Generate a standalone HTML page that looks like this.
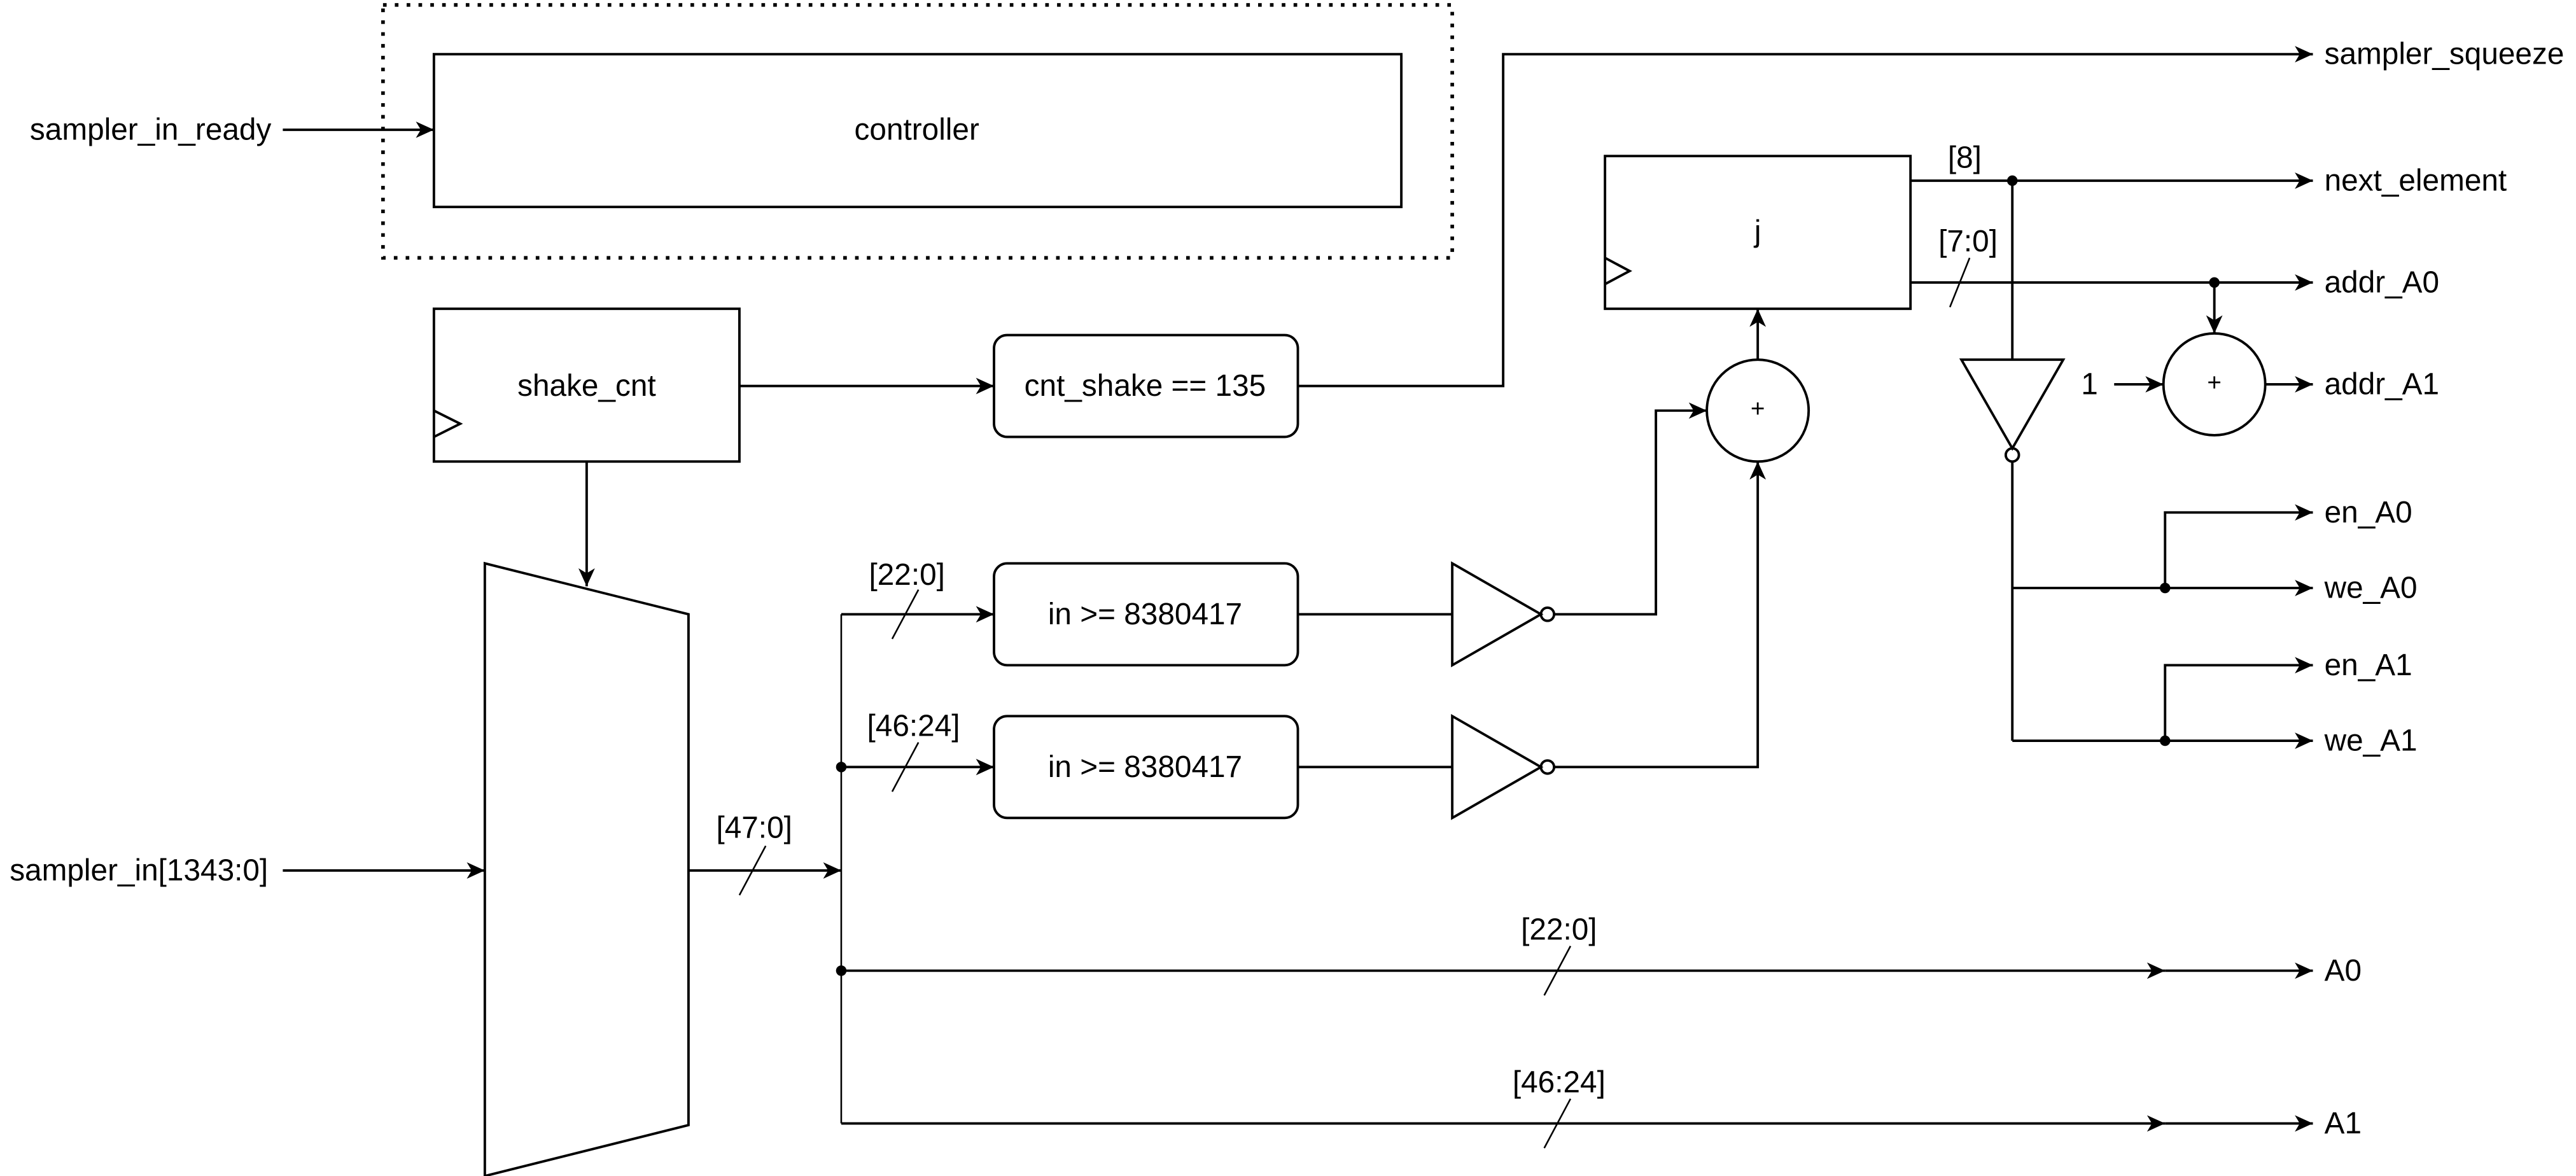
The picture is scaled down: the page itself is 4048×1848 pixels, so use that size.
<!DOCTYPE html>
<html><head><meta charset="utf-8"><style>
html,body{margin:0;padding:0;background:#fff}
svg{display:block}
text{font-family:"Liberation Sans",sans-serif;font-size:18.5px;fill:#000}
</style></head><body>
<svg width="4048" height="1848" viewBox="0 0 1568 716" xmlns="http://www.w3.org/2000/svg">
<defs>
<marker id="a" markerUnits="userSpaceOnUse" markerWidth="14" markerHeight="14" refX="11" refY="7" orient="auto">
<path d="M0,2 L11,7 L0,12 L3,7 Z" fill="#000"/>
</marker>
</defs>
<g fill="none" stroke="#000" stroke-width="1.5">
<rect x="233" y="3" width="651" height="154" stroke-width="2.2" stroke-dasharray="2.2,5"/>
<rect x="264" y="33" width="589" height="93"/>
<line x1="172" y1="79" x2="264" y2="79" marker-end="url(#a)"/>
<rect x="264" y="188" width="186" height="93"/>
<polyline points="264,250 280,258 264,266"/>
<line x1="450" y1="235" x2="605" y2="235" marker-end="url(#a)"/>
<rect x="605" y="204" width="185" height="62" rx="8"/>
<polyline points="790,235 915,235 915,33 1408,33" marker-end="url(#a)"/>
<line x1="357" y1="281" x2="357" y2="357" marker-end="url(#a)"/>
<polygon points="295,343 419,374 419,685 295,716"/>
<line x1="172" y1="530" x2="295" y2="530" marker-end="url(#a)"/>
<line x1="419" y1="530" x2="512" y2="530" marker-end="url(#a)"/>
<line x1="450" y1="545" x2="466" y2="515" stroke-width="1"/>
<line x1="512" y1="374" x2="512" y2="684" stroke-width="1"/>
<polyline points="512,374 605,374" marker-end="url(#a)"/>
<line x1="512" y1="467" x2="605" y2="467" marker-end="url(#a)"/>
<line x1="543" y1="389" x2="559" y2="359" stroke-width="1"/>
<line x1="543" y1="482" x2="559" y2="452" stroke-width="1"/>
<rect x="605" y="343" width="185" height="62" rx="8"/>
<rect x="605" y="436" width="185" height="62" rx="8"/>
<line x1="790" y1="374" x2="884" y2="374"/>
<line x1="790" y1="467" x2="884" y2="467"/>
<polygon points="884,343 884,405 938,374"/>
<polygon points="884,436 884,498 938,467"/>
<circle cx="942" cy="374" r="4"/>
<circle cx="942" cy="467" r="4"/>
<polyline points="946,374 1008,374 1008,250 1039,250" marker-end="url(#a)"/>
<polyline points="946,467 1070,467 1070,281" marker-end="url(#a)"/>
<circle cx="1070" cy="250" r="31"/>
<line x1="1070" y1="219" x2="1070" y2="188" marker-end="url(#a)"/>
<rect x="977" y="95" width="186" height="93"/>
<polyline points="977,157 992,165 977,173"/>
<line x1="1163" y1="110" x2="1408" y2="110" marker-end="url(#a)"/>
<line x1="1163" y1="172" x2="1408" y2="172" marker-end="url(#a)"/>
<line x1="1187" y1="187" x2="1199" y2="157" stroke-width="1"/>
<line x1="1348" y1="172" x2="1348" y2="203" marker-end="url(#a)"/>
<line x1="1225" y1="110" x2="1225" y2="219"/>
<polygon points="1194,219 1256,219 1225,273"/>
<circle cx="1225" cy="277" r="4"/>
<line x1="1225" y1="281" x2="1225" y2="451"/>
<circle cx="1348" cy="234" r="31"/>
<line x1="1287" y1="234" x2="1317" y2="234" marker-end="url(#a)"/>
<line x1="1379" y1="234" x2="1408" y2="234" marker-end="url(#a)"/>
<line x1="1225" y1="358" x2="1408" y2="358" marker-end="url(#a)"/>
<polyline points="1318,358 1318,312 1408,312" marker-end="url(#a)"/>
<line x1="1225" y1="451" x2="1408" y2="451" marker-end="url(#a)"/>
<polyline points="1318,451 1318,405 1408,405" marker-end="url(#a)"/>
<line x1="512" y1="591" x2="1318" y2="591" marker-end="url(#a)"/>
<line x1="1318" y1="591" x2="1408" y2="591" marker-end="url(#a)"/>
<line x1="512" y1="684" x2="1318" y2="684" marker-end="url(#a)"/>
<line x1="1318" y1="684" x2="1408" y2="684" marker-end="url(#a)"/>
<line x1="940" y1="606" x2="956" y2="576" stroke-width="1"/>
<line x1="940" y1="699" x2="956" y2="669" stroke-width="1"/>
</g>
<g fill="#000">
<circle cx="512" cy="467" r="3.2"/>
<circle cx="512" cy="591" r="3.2"/>
<circle cx="1225" cy="110" r="3.2"/>
<circle cx="1348" cy="172" r="3.2"/>
<circle cx="1318" cy="358" r="3.2"/>
<circle cx="1318" cy="451" r="3.2"/>
</g>
<g dominant-baseline="central">
<text x="165" y="79" text-anchor="end">sampler_in_ready</text>
<text x="558" y="79" text-anchor="middle">controller</text>
<text x="357" y="235" text-anchor="middle">shake_cnt</text>
<text x="697" y="235" text-anchor="middle">cnt_shake == 135</text>
<text x="163" y="530" text-anchor="end">sampler_in[1343:0]</text>
<text x="459" y="504" text-anchor="middle">[47:0]</text>
<text x="552" y="350" text-anchor="middle">[22:0]</text>
<text x="556" y="442" text-anchor="middle">[46:24]</text>
<text x="697" y="374" text-anchor="middle">in &gt;= 8380417</text>
<text x="697" y="467" text-anchor="middle">in &gt;= 8380417</text>
<text x="1070" y="249" text-anchor="middle" style="font-size:15px">+</text>
<text x="1348" y="233" text-anchor="middle" style="font-size:15px">+</text>
<text x="1070" y="141" text-anchor="middle">j</text>
<text x="1196" y="96" text-anchor="middle">[8]</text>
<text x="1198" y="147" text-anchor="middle">[7:0]</text>
<text x="1272" y="234" text-anchor="middle">1</text>
<text x="949" y="566" text-anchor="middle">[22:0]</text>
<text x="949" y="659" text-anchor="middle">[46:24]</text>
<text x="1415" y="33">sampler_squeeze</text>
<text x="1415" y="110">next_element</text>
<text x="1415" y="172">addr_A0</text>
<text x="1415" y="234">addr_A1</text>
<text x="1415" y="312">en_A0</text>
<text x="1415" y="358">we_A0</text>
<text x="1415" y="405">en_A1</text>
<text x="1415" y="451">we_A1</text>
<text x="1415" y="591">A0</text>
<text x="1415" y="684">A1</text>
</g>
</svg>
</body></html>
